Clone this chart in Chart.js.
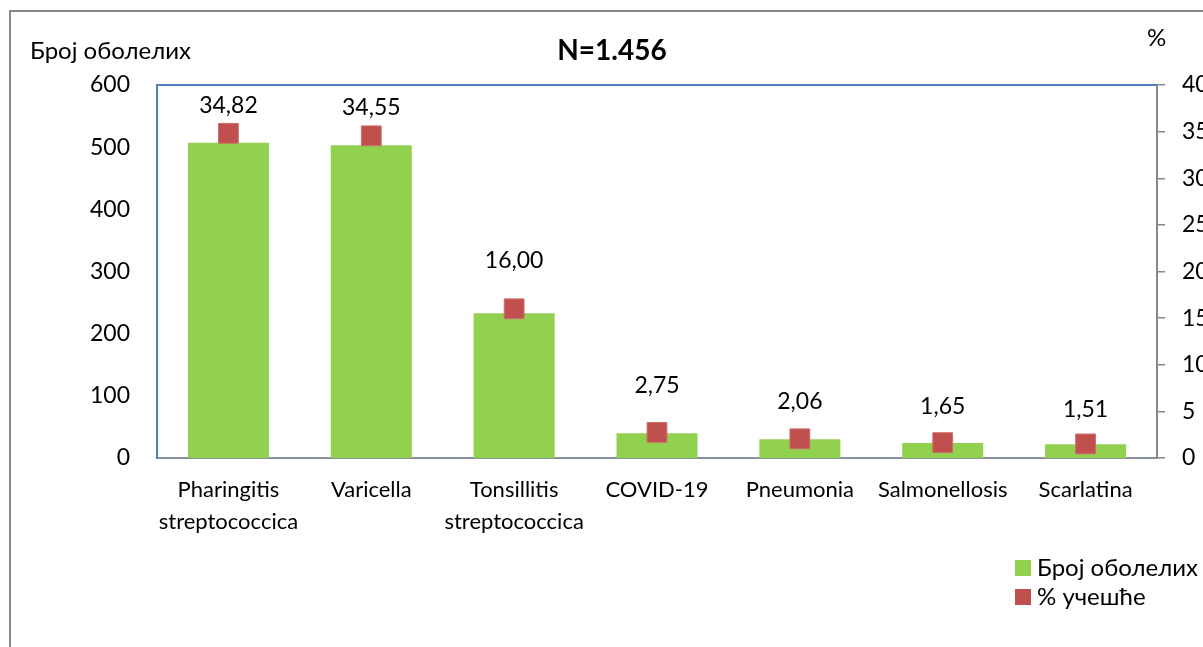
<!DOCTYPE html>
<html>
<head>
<meta charset="utf-8">
<script src="https://cdn.jsdelivr.net/npm/chart.js@4.4.1/dist/chart.umd.min.js"></script>
<style>
  html, body { margin: 0; padding: 0; background: #fff; overflow: hidden; }
  #wrap { width: 1203px; height: 647px; overflow: hidden; }
</style>
</head>
<body>
<div id="wrap"><canvas id="chart" width="1260" height="700"></canvas></div>
<script>
// data
const categories = [['Pharingitis', 'streptococcica'], 'Varicella', ['Tonsillitis', 'streptococcica'], 'COVID-19', 'Pneumonia', 'Salmonellosis', 'Scarlatina'];
const cases = [507, 503, 233, 40, 30, 24, 22];        // Број оболелих
const shares = [34.82, 34.55, 16.00, 2.75, 2.06, 1.65, 1.51]; // % учешће
const leftTicks = [0, 100, 200, 300, 400, 500, 600];
const rightTicks = [0, 5, 10, 15, 20, 25, 30, 35, 40];

// how far (px) each % label sits above its marker, as placed in the original
const labelLift = [28, 28, 48, 47, 37, 36, 34];

const FONT = 'Lato, "Noto Sans", sans-serif';
const GREEN = '#92D050';
const RED = '#C0504D';

const decor = {
  id: 'decor',
  beforeDraw(chart) {
    const ctx = chart.ctx;
    ctx.save();
    ctx.fillStyle = '#fff';
    ctx.fillRect(0, 0, chart.width, chart.height);
    // outer frame
    ctx.strokeStyle = '#888';
    ctx.lineWidth = 2;
    ctx.beginPath();
    ctx.moveTo(10, chart.height);
    ctx.lineTo(10, 11);
    ctx.lineTo(chart.width, 11);
    ctx.stroke();
    ctx.restore();
  },
  afterDraw(chart) {
    const ctx = chart.ctx;
    const area = chart.chartArea;
    const sets = chart.data.datasets;
    const barIdx = sets.findIndex(d => d.type === 'bar');
    const ptIdx = sets.findIndex(d => d.type === 'line');
    ctx.save();
    // top edge of plot area
    ctx.strokeStyle = '#4F81BD';
    ctx.lineWidth = 2;
    ctx.beginPath();
    ctx.moveTo(area.left, area.top);
    ctx.lineTo(area.right, area.top);
    ctx.stroke();

    ctx.fillStyle = '#000';
    ctx.textBaseline = 'middle';
    // title
    ctx.font = 'bold 28px ' + FONT;
    ctx.textAlign = 'center';
    ctx.fillText('N=1.456', 612, 51);
    // axis titles
    ctx.font = '24px ' + FONT;
    ctx.textAlign = 'left';
    ctx.fillText('Број оболелих', 30, 51);
    ctx.fillText('%', 1147, 38);

    // % labels above markers
    ctx.font = '23px ' + FONT;
    ctx.textAlign = 'center';
    chart.getDatasetMeta(ptIdx).data.forEach((pt, i) => {
      const txt = shares[i].toFixed(2).replace('.', ',');
      ctx.fillText(txt, pt.x, pt.y - labelLift[i]);
    });

    // legend
    ctx.font = '24px ' + FONT;
    ctx.textAlign = 'left';
    ctx.fillStyle = GREEN;
    ctx.fillRect(1015, 560, 16, 16);
    ctx.fillStyle = RED;
    ctx.fillRect(1015, 589, 16, 16);
    ctx.fillStyle = '#000';
    ctx.fillText(sets[barIdx].label, 1037, 568);
    ctx.fillText(sets[ptIdx].label, 1037, 597);
    ctx.restore();
  }
};

new Chart(document.getElementById('chart'), {
  data: {
    labels: categories,
    datasets: [
      {
        type: 'line',
        label: '% учешће',
        data: shares,
        yAxisID: 'y1',
        showLine: false,
        pointStyle: 'rect',
        pointRadius: 14,
        pointHoverRadius: 14,
        pointBackgroundColor: RED,
        pointBorderColor: '#CC6E6C',
        pointBorderWidth: 1,
        order: 0
      },
      {
        type: 'bar',
        label: 'Број оболелих',
        data: cases,
        yAxisID: 'y',
        backgroundColor: GREEN,
        borderWidth: 0,
        barPercentage: 0.567,
        categoryPercentage: 1,
        order: 1
      }
    ]
  },
  options: {
    responsive: false,
    animation: false,
    events: [],
    layout: { padding: { top: 85, left: 0, right: 0, bottom: 0 } },
    plugins: {
      legend: { display: false },
      tooltip: { enabled: false },
      title: { display: false }
    },
    scales: {
      x: {
        grid: { display: false, drawTicks: false },
        border: { color: '#8A929C', width: 2 },
        ticks: {
          color: '#000',
          padding: 16,
          maxRotation: 0,
          autoSkip: false,
          font: { family: FONT, size: 22, lineHeight: 1.45 }
        },
        afterFit(s) { s.height = 700 - 458; }
      },
      y: {
        position: 'left',
        min: leftTicks[0],
        max: leftTicks[leftTicks.length - 1],
        grid: { display: false, drawTicks: false },
        border: { color: '#4F81BD', width: 2 },
        ticks: {
          stepSize: leftTicks[1] - leftTicks[0],
          color: '#000',
          padding: 27,
          font: { family: FONT, size: 23 }
        },
        afterFit(s) { s.width = 157; }
      },
      y1: {
        position: 'right',
        min: rightTicks[0],
        max: rightTicks[rightTicks.length - 1],
        grid: { drawOnChartArea: false, drawTicks: true, tickLength: 8, color: '#888', lineWidth: 1.5 },
        border: { color: '#888', width: 2 },
        ticks: {
          stepSize: rightTicks[1] - rightTicks[0],
          color: '#000',
          padding: 17,
          font: { family: FONT, size: 23 }
        },
        afterFit(s) { s.width = 1260 - 1157; }
      }
    }
  },
  plugins: [decor]
});
</script>
</body>
</html>
